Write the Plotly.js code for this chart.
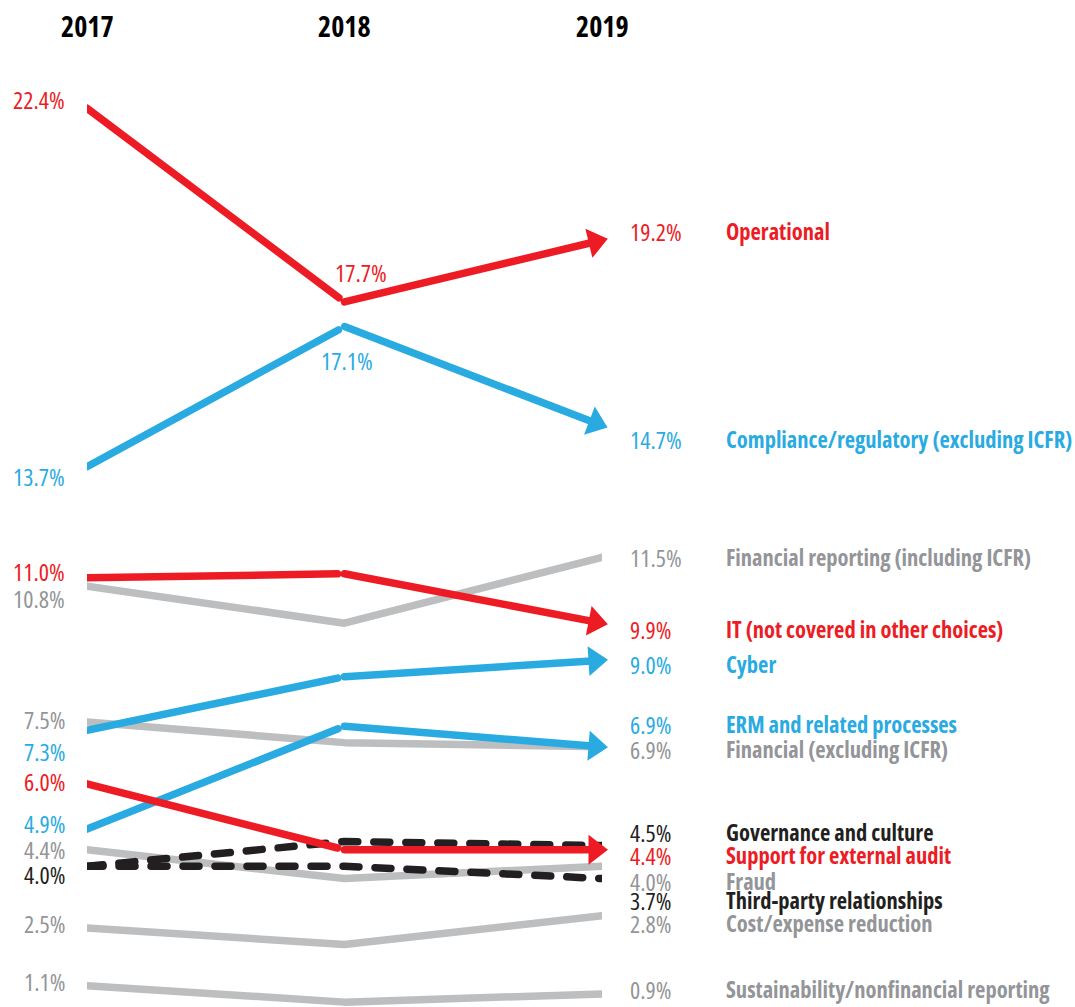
<!DOCTYPE html>
<html><head><meta charset="utf-8">
<script src="https://cdn.plot.ly/plotly-3.0.1.min.js"></script>
<style>
html,body{margin:0;padding:0;background:#fff}
#chart{width:1075px;height:1007px}
text{font-stretch:75% !important;}
</style>
</head><body><div id="chart"></div>
<script>
// ---- data ----
const years = [2017, 2018, 2019];
const yearLabels = ["2017", "2018", "2019"];
const categories = [
  "Operational",
  "Compliance/regulatory (excluding ICFR)",
  "Financial reporting (including ICFR)",
  "IT (not covered in other choices)",
  "Cyber",
  "ERM and related processes",
  "Financial (excluding ICFR)",
  "Governance and culture",
  "Support for external audit",
  "Fraud",
  "Third-party relationships",
  "Cost/expense reduction",
  "Sustainability/nonfinancial reporting"
];
const operational        = [22.4, 17.7, 19.2];
const compliance         = [13.7, 17.1, 14.7];
const financialReporting = [10.8, 9.9, 11.5];
const itRisk             = [11.0, 11.1, 9.9];
const cyber              = [7.3, 8.6, 9.0];
const erm                = [4.9, 7.4, 6.9];
const financialExcl      = [7.5, 7.0, 6.9];
const governance         = [4.0, 4.6, 4.5];
const externalAudit      = [6.0, 4.4, 4.4];
const fraud              = [4.4, 3.7, 4.0];
const thirdParty         = [4.0, 4.0, 3.7];
const costReduction      = [2.5, 2.1, 2.8];
const sustainability     = [1.1, 0.7, 0.9];

// ---- style ----
const RED = "#ED1C24", BLUE = "#29ABE2", GRAYL = "#BCBEC0", GRAYT = "#939598", BLACK = "#231F20";
const FONT = "'Open Sans', 'Roboto', sans-serif";

// left/right: vertical pixel nudges of labels (down positive)
const series = [
  {y: financialReporting, cat: 2, line: GRAYL, text: GRAYT, dash: "solid", arrow: false, left: 12.6, right: 0},
  {y: financialExcl,      cat: 6, line: GRAYL, text: GRAYT, dash: "solid", arrow: false, left: -3, right: 3},
  {y: fraud,              cat: 9, line: GRAYL, text: GRAYT, dash: "solid", arrow: false, left: 0, right: 15},
  {y: costReduction,      cat: 11, line: GRAYL, text: GRAYT, dash: "solid", arrow: false, left: -4, right: 8},
  {y: sustainability,     cat: 12, line: GRAYL, text: GRAYT, dash: "solid", arrow: false, left: -4, right: -4},
  {y: governance,         cat: 7, line: BLACK, text: BLACK, dash: "16px,16px", arrow: false, left: 8, right: -13},
  {y: thirdParty,         cat: 10, line: BLACK, text: BLACK, dash: "16px,16px", arrow: false, left: null, right: 22},
  {y: compliance,         cat: 1, line: BLUE, text: BLUE, dash: "solid", arrow: true, left: 10, right: 14},
  {y: cyber,              cat: 4, line: BLUE, text: BLUE, dash: "solid", arrow: true, left: 21, right: 4},
  {y: erm,                cat: 5, line: BLUE, text: BLUE, dash: "solid", arrow: true, left: -6, right: -22},
  {y: operational,        cat: 0, line: RED, text: RED, dash: "solid", arrow: true, left: -9, right: -9},
  {y: itRisk,             cat: 3, line: RED, text: RED, dash: "solid", arrow: true, left: -6, right: 6},
  {y: externalAudit,      cat: 8, line: RED, text: RED, dash: "solid", arrow: true, left: -2, right: 6}
];

const fmt = v => v.toFixed(1) + "%";

const traces = series.map(s => {
  const t = {
    type: "scatter",
    mode: s.arrow ? "lines+markers" : "lines",
    x: years,
    y: s.y,
    name: categories[s.cat],
    line: {color: s.line, width: 7.5, dash: s.dash},
    cliponaxis: false,
    hoverinfo: "skip",
    showlegend: false
  };
  if (s.arrow) t.marker = {symbol: "triangle-up", angleref: "previous", size: [0, 0, 26], standoff: 7,
                           color: s.line, opacity: 1, line: {width: 0}};
  return t;
});

const annotations = [];
years.forEach((yr, i) => annotations.push({
  x: yr, y: 1, xref: "x", yref: "paper", yshift: 37, text: yearLabels[i], showarrow: false,
  xanchor: "center", yanchor: "middle",
  font: {family: FONT, size: 28, color: "#000", weight: "bold"}
}));
series.forEach(s => {
  if (s.left !== null) annotations.push({
    x: years[0], y: s.y[0], xref: "x", yref: "y", text: fmt(s.y[0]), showarrow: false,
    xanchor: "right", yanchor: "middle", xshift: -20, yshift: -s.left,
    font: {family: FONT, size: 24, color: s.text, weight: 500}
  });
  annotations.push({
    x: years[2], y: s.y[2], xref: "x", yref: "y", text: fmt(s.y[2]), showarrow: false,
    xanchor: "left", yanchor: "middle", xshift: 26, yshift: -s.right,
    font: {family: FONT, size: 24, color: s.text, weight: 500}
  });
  annotations.push({
    x: years[2], y: s.y[2], xref: "x", yref: "y", text: categories[s.cat], showarrow: false,
    xanchor: "left", yanchor: "middle", xshift: 122, yshift: -s.right,
    font: {family: FONT, size: 22.5, color: s.text, weight: "bold"}
  });
});
annotations.push({x: years[1], y: operational[1], xref: "x", yref: "y", text: fmt(operational[1]), showarrow: false,
  xanchor: "center", yanchor: "middle", xshift: 16, yshift: 29, font: {family: FONT, size: 24, color: RED, weight: 500}});
annotations.push({x: years[1], y: compliance[1], xref: "x", yref: "y", text: fmt(compliance[1]), showarrow: false,
  xanchor: "center", yanchor: "middle", xshift: 2, yshift: -34, font: {family: FONT, size: 24, color: BLUE, weight: 500}});

const layout = {
  width: 1075, height: 1007,
  margin: {l: 87, r: 473, t: 63, b: 1, pad: 0},
  paper_bgcolor: "#fff", plot_bgcolor: "#fff",
  xaxis: {range: [2017, 2019], visible: false, fixedrange: true},
  yaxis: {range: [0.606, 23.5], visible: false, fixedrange: true},
  annotations: annotations,
  hovermode: false,
  showlegend: false
};

Plotly.newPlot("chart", traces, layout, {displayModeBar: false, staticPlot: true}).then(gd => {
  gd.querySelectorAll(".scatterlayer .trace path.js-line").forEach(p => {
    p.style.strokeLinejoin = "round";
    p.style.strokeLinecap = "round";
  });
});
</script>
</body></html>
